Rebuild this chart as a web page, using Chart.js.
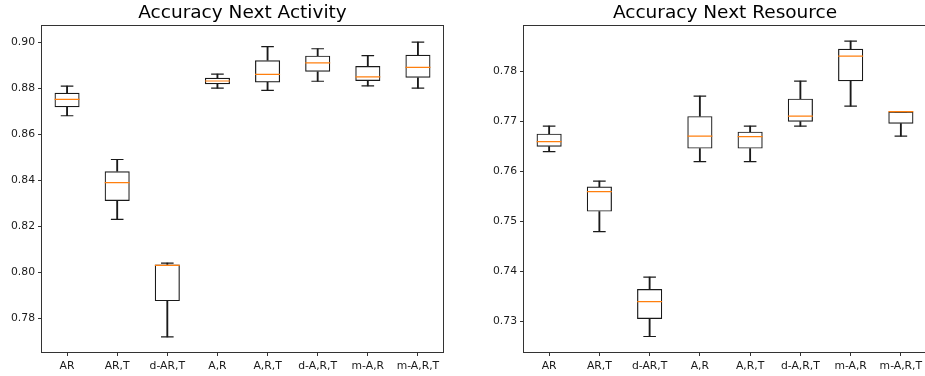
<!DOCTYPE html>
<html>
<head>
<meta charset="utf-8">
<script src="https://cdn.jsdelivr.net/npm/chart.js@4.4.1/dist/chart.umd.min.js"></script>
<style>
  html, body { margin: 0; padding: 0; background: #fff; overflow: hidden; width: 925px; height: 376px; }
  .panel { position: absolute; top: 0; }
</style>
</head>
<body>
<div class="panel" style="left:0px"><canvas id="actChart" width="485" height="376"></canvas></div>
<div class="panel" style="left:482px"><canvas id="resChart" width="486" height="376"></canvas></div>
<script>
const categories = ['AR', 'AR,T', 'd-AR,T', 'A,R', 'A,R,T', 'd-A,R,T', 'm-A,R', 'm-A,R,T'];

// Accuracy Next Activity (box stats per category)
const actLow = [0.868, 0.823, 0.772, 0.880, 0.879, 0.883, 0.881, 0.880];
const actQ1 = [0.8717, 0.831, 0.7875, 0.8817, 0.8825, 0.8871, 0.8831, 0.8845];
const actMedian = [0.8751, 0.839, 0.8030, 0.8831, 0.886, 0.891, 0.8849, 0.889];
const actQ3 = [0.878, 0.8439, 0.8034, 0.8845, 0.8921, 0.8941, 0.8896, 0.8945];
const actHigh = [0.8809, 0.849, 0.804, 0.8861, 0.898, 0.8971, 0.8941, 0.900];

// Accuracy Next Resource
const resLow = [0.764, 0.748, 0.727, 0.762, 0.762, 0.7691, 0.7731, 0.7671];
const resQ1 = [0.765, 0.752, 0.7305, 0.7646, 0.7646, 0.770, 0.7781, 0.7696];
const resMedian = [0.766, 0.756, 0.734, 0.7671, 0.767, 0.7711, 0.7831, 0.772];
const resQ3 = [0.7676, 0.757, 0.7365, 0.7711, 0.768, 0.7746, 0.7846, 0.772];
const resHigh = [0.7691, 0.7581, 0.7389, 0.7751, 0.7691, 0.7781, 0.7861, 0.772];

const FONT = 'DejaVu Sans';
const INK = '#1a1a1a';

const framePlugin = {
    id: 'frame',
    afterDatasetsDraw(chart) {
        const a = chart.chartArea;
        const ctx = chart.ctx;
        const l = Math.round(a.left), t = Math.round(a.top);
        const r = Math.round(a.right), b = Math.round(a.bottom);
        ctx.save();
        ctx.strokeStyle = '#333';
        ctx.lineWidth = 1;
        ctx.strokeRect(l - 0.5, t - 0.5, r - l + 1, b - t + 1);
        ctx.restore();
    }
};

function makeBoxChart(id, title, low, q1, med, q3, high, yMin, yMax, step) {
    const ctx = document.getElementById(id).getContext('2d');
    return new Chart(ctx, {
        type: 'bar',
        data: {
            labels: categories,
            datasets: [
                {
                    type: 'line', data: med, showLine: false,
                    pointStyle: 'line', pointRadius: 12.5, pointHoverRadius: 12.5,
                    pointBorderColor: '#ff7f0e', pointBorderWidth: 1.2
                },
                {
                    type: 'line', data: high, showLine: false,
                    pointStyle: 'line', pointRadius: 6.3, pointHoverRadius: 6.3,
                    pointBorderColor: INK, pointBorderWidth: 1.2
                },
                {
                    type: 'line', data: low, showLine: false,
                    pointStyle: 'line', pointRadius: 6.3, pointHoverRadius: 6.3,
                    pointBorderColor: INK, pointBorderWidth: 1.2
                },
                {
                    data: q1.map((v, i) => [v, q3[i]]),
                    backgroundColor: 'rgba(0,0,0,0)',
                    borderColor: INK, borderWidth: 1.2, borderSkipped: false,
                    barPercentage: 0.5, categoryPercentage: 1, grouped: false
                },
                {
                    data: q3.map((v, i) => [v, high[i]]),
                    backgroundColor: INK, borderWidth: 0,
                    barThickness: 1.2, grouped: false
                },
                {
                    data: low.map((v, i) => [v, q1[i]]),
                    backgroundColor: INK, borderWidth: 0,
                    barThickness: 1.2, grouped: false
                }
            ]
        },
        options: {
            responsive: false,
            animation: false,
            layout: { padding: 0 },
            plugins: {
                legend: { display: false },
                tooltip: { enabled: false },
                title: {
                    display: true, text: title, color: '#000',
                    font: { family: FONT, size: 18.5, weight: 'normal' },
                    padding: { top: 2, bottom: 2 }
                }
            },
            scales: {
                x: {
                    type: 'category',
                    offset: true,
                    afterFit: s => { s.height = 24; },
                    border: { display: false },
                    grid: { offset: false, drawOnChartArea: false, drawTicks: true, tickLength: 4, color: '#333' },
                    ticks: { color: INK, padding: 4, maxRotation: 0, font: { family: FONT, size: 10.8 } }
                },
                y: {
                    min: yMin, max: yMax,
                    afterFit: s => { s.width = 42; },
                    border: { display: false },
                    grid: { drawOnChartArea: false, drawTicks: true, tickLength: 4, color: '#333' },
                    ticks: {
                        stepSize: step, includeBounds: false, color: INK, padding: 3,
                        font: { family: FONT, size: 10.8 },
                        callback: v => v.toFixed(2)
                    }
                },
                // empty right-hand spacer so the title centres over the plot area
                spacer: {
                    type: 'linear', position: 'right', display: true,
                    afterFit: s => { s.width = 42; },
                    border: { display: false },
                    grid: { display: false },
                    ticks: { display: false }
                }
            }
        },
        plugins: [framePlugin]
    });
}

makeBoxChart('actChart', 'Accuracy Next Activity', actLow, actQ1, actMedian, actQ3, actHigh,
    0.7654, 0.9069, 0.02);
makeBoxChart('resChart', 'Accuracy Next Resource', resLow, resQ1, resMedian, resQ3, resHigh,
    0.7239, 0.7891, 0.01);
</script>
</body>
</html>
